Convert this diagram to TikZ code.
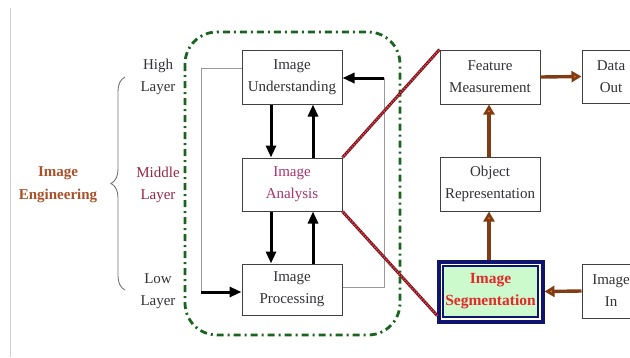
\documentclass[tikz,border=0pt]{standalone}
\usepackage{fontspec}
\setmainfont{Liberation Serif}
\usetikzlibrary{arrows.meta,decorations.pathreplacing,calc}
\definecolor{txt}{RGB}{50,50,55}
\definecolor{engc}{RGB}{170,80,40}
\definecolor{midc}{RGB}{150,40,70}
\definecolor{anac}{RGB}{170,50,110}
\definecolor{dgreen}{RGB}{25,100,30}
\definecolor{dred}{RGB}{120,20,30}
\definecolor{lred}{RGB}{225,70,80}
\definecolor{brn}{RGB}{130,60,20}
\definecolor{orng}{RGB}{215,110,30}
\definecolor{navyc}{RGB}{15,20,110}
\definecolor{segfill}{RGB}{205,250,205}
\definecolor{segtxt}{RGB}{230,40,40}
\tikzset{
  box/.style={draw=black!75, line width=1pt, fill=white, align=center, inner sep=0pt, text=txt, font=\fontsize{15}{22}\selectfont},
  lbl/.style={align=center, inner sep=0pt, text=txt, font=\fontsize{15}{22}\selectfont},
  blk/.style={line width=3pt, -{Triangle[length=12pt,width=10pt]}},
  gry/.style={draw=black!40, line width=1pt},
  brarrow/.style={draw=brn, line width=3.4pt, -{Triangle[length=10pt,width=11pt,fill=orng]}},
  redline/.style={draw=dred, line width=3pt},
  reddots/.style={draw=lred, line width=1.6pt, dash pattern=on 1.3pt off 1.5pt}
}
\begin{document}
\begin{tikzpicture}[x=1pt,y=-1pt]
\useasboundingbox (0,0) rectangle (630,357);
\clip (0,0) rectangle (630,357);
% left border line
\draw[black!18, line width=1pt] (10,8) -- (10,357);
% green dash-dot rounded box
\draw[dgreen, line width=2.8pt, rounded corners=32pt, dash pattern=on 7pt off 4pt on 2pt off 4pt] (185,32) rectangle (400,335);
% left labels
\node[lbl, text=engc, font=\fontsize{15}{23}\bfseries] (eng) at (58,185) {Image\\Engineering};
\node[lbl] (high) at (158,77) {High\\Layer};
\node[lbl, text=midc] (mid) at (158,185) {Middle\\Layer};
\node[lbl] (low) at (158,291) {Low\\Layer};
\coordinate (brb) at (125,290);
\coordinate (brt) at (125,77);
\draw[black!55, line width=0.9pt, decorate, decoration={brace, amplitude=14pt}] (brb) -- (brt);
% middle boxes
\node[box, minimum width=100pt, minimum height=54pt] (und) at (292,77) {Image\\Understanding};
\node[box, minimum width=100pt, minimum height=53pt, text=anac] (ana) at (292,184.5) {Image\\Analysis};
\node[box, minimum width=100pt, minimum height=51pt] (pro) at (292,289.5) {Image\\Processing};
% feedback loops
\coordinate (l1) at (201,68);
\coordinate (l2) at (201,292);
\draw[gry] (und.west |- l1) -- (l1) -- (l2);
\draw[blk] (l2) -- (pro.west |- l2);
\coordinate (r1) at (384,287);
\coordinate (r2) at (384,78);
\draw[gry] (pro.east |- r1) -- (r1) -- (r2);
\draw[blk] (r2) -- (und.east |- r2);
% vertical arrows
\draw[blk] ([xshift=-21pt]und.south) -- ([xshift=-21pt]ana.north);
\draw[blk] ([xshift=21pt]ana.north) -- ([xshift=21pt]und.south);
\draw[blk] ([xshift=-21pt]ana.south) -- ([xshift=-21pt]pro.north);
\draw[blk] ([xshift=21pt]pro.north) -- ([xshift=21pt]ana.south);
% right boxes
\node[box, minimum width=100pt, minimum height=54pt] (fm) at (490,77) {Feature\\Measurement};
\node[box, minimum width=100pt, minimum height=54pt] (obj) at (490,184) {Object\\Representation};
\node[box, minimum width=58pt, minimum height=53pt] (dout) at (611,76.5) {Data\\Out};
\node[box, minimum width=58pt, minimum height=54pt] (iin) at (611,291) {Image\\In};
\node[draw=navyc, line width=1.4pt, fill=segfill, align=center, inner sep=0pt, minimum width=95pt, minimum height=51pt, text=segtxt, font=\fontsize{15.5}{22}\bfseries] (seg) at (490.5,291.5) {Image\\Segmentation};
\draw[navyc, line width=4pt] ($(seg.north west)+(-3.8,-3.8)$) rectangle ($(seg.south east)+(3.8,3.8)$);
\coordinate (segtop) at ($(seg.north)+(-1.5,-5.8)$);
\coordinate (segright) at ($(seg.east)+(5.8,0)$);
\coordinate (segbl) at ($(seg.south west)+(-5,-2)$);
% red dotted lines
\draw[redline] (ana.north east) -- (fm.north west);
\draw[reddots] (ana.north east) -- (fm.north west);
\draw[redline] (ana.south east) -- (segbl);
\draw[reddots] (ana.south east) -- (segbl);
% brown arrows
\draw[brarrow] (fm.east) -- (dout.west);
\draw[brarrow] (obj.north -| segtop) -- (fm.south -| segtop);
\draw[brarrow] (segtop) -- (obj.south -| segtop);
\draw[brarrow] (iin.west) -- (segright);
\end{tikzpicture}
\end{document}
